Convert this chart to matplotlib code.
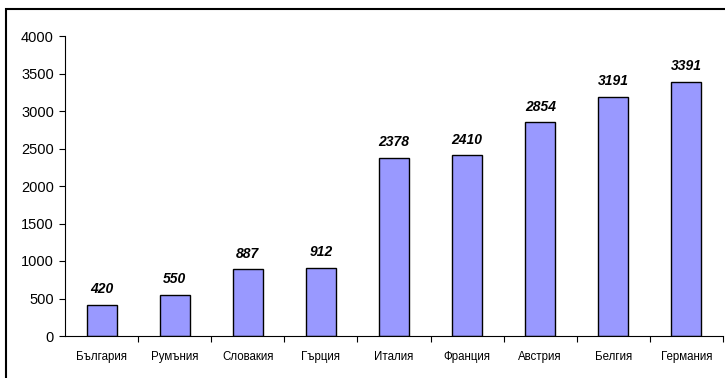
import matplotlib
matplotlib.use("Agg")
import matplotlib.pyplot as plt
from matplotlib.patches import Rectangle
import numpy as np

plt.rcParams["font.family"] = ["Liberation Sans", "DejaVu Sans"]

countries = ["България", "Румъния", "Словакия", "Гърция", "Италия",
             "Франция", "Австрия", "Белгия", "Германия"]
values = [420, 550, 887, 912, 2378, 2410, 2854, 3191, 3391]
y_ticks = [0, 500, 1000, 1500, 2000, 2500, 3000, 3500, 4000]

fig = plt.figure(figsize=(7.25, 3.78), dpi=100)
ax = fig.add_axes([65 / 725, 42 / 378, 658 / 725, 300 / 378])

x = np.arange(len(countries))
bars = ax.bar(x, values, width=0.41, color="#9999ff",
              edgecolor="black", linewidth=1.0, zorder=2)

for xi, v in zip(x, values):
    ax.annotate(f"{v}", (xi, v), xytext=(0, 6), textcoords="offset points",
                ha="center", va="bottom", fontsize=10,
                fontweight="bold", fontstyle="italic")

ax.set_xlim(-0.5, len(countries) - 0.5)
ax.set_ylim(0, 4000)
ax.set_yticks(y_ticks)
ax.tick_params(axis="y", direction="out", length=4, width=0.8,
               labelsize=10.5, pad=4)

# category boundaries get the tick marks, names sit between them
ax.set_xticks(np.arange(len(countries)) + 0.5)
ax.set_xticklabels([])
ax.tick_params(axis="x", which="major", direction="out", length=4, width=0.8)
ax.set_xticks(x, minor=True)
ax.set_xticklabels(countries, minor=True)
ax.tick_params(axis="x", which="minor", length=0, labelsize=8.3, pad=11)

for side in ("top", "right"):
    ax.spines[side].set_visible(False)
for side in ("left", "bottom"):
    ax.spines[side].set_linewidth(0.8)

# outer frame around the chart area
fig.patches.append(Rectangle((6 / 725, -0.2), 1.0, 369 / 378 + 0.2,
                             transform=fig.transFigure, fill=False,
                             edgecolor="black", linewidth=1.5))

fig.savefig("out.png", dpi=100)
